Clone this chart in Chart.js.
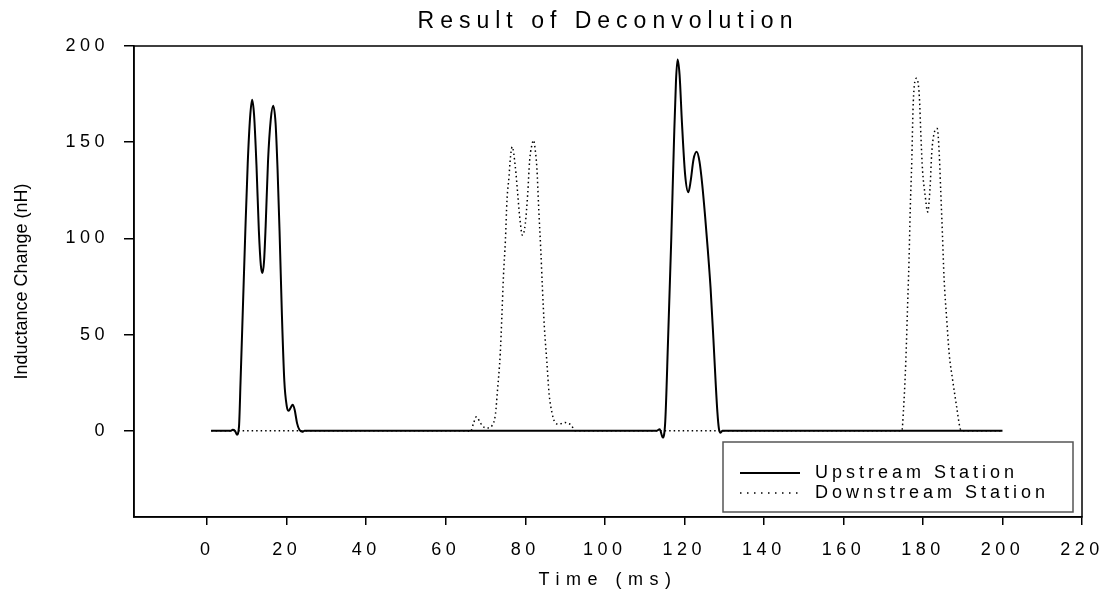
<!DOCTYPE html>
<html><head><meta charset="utf-8">
<script src="https://cdn.jsdelivr.net/npm/chart.js@4.4.1/dist/chart.umd.min.js"></script>
<style>html,body{margin:0;padding:0;background:#fff;}canvas{display:block}</style>
</head><body>
<canvas id="c" width="1102" height="597"></canvas>
<script>
// ---- data ----
const upTime = [1,6,6.4,7,7.5,8,8.4,9,9.6,10.2,10.8,11.3,11.8,12.4,13,13.5,13.9,14.3,14.7,15.3,16,16.6,17.2,17.7,18.2,18.8,19.4,20,20.5,21,21.5,22,22.6,23.2,23.9,24.5,
  113,113.8,114.6,115.2,115.9,116.7,117.4,117.9,118.3,118.8,119.4,120.2,121,121.6,122.3,123.1,123.8,124.5,125.2,125.9,126.6,127.3,127.9,128.3,128.7,129.1,129.6,200];
const upValue = [0,0,0.5,0,-2,2,26,65,104,139,163,172,164,138,104,86,82,88,106,140,162,169,160,136,104,60,26,13,10.4,12,13.5,11,4,0.5,-0.5,0,
  0,0.8,-3.5,5,47,99,151,182,193,185,160,133,124,130,141,145,140,128,112,94,74,48,24,10,1,-1,0,0];
const downTime = [1,65.5,66.2,67,67.7,68.5,69.2,69.8,70.6,71.6,72.5,73,73.7,74.1,74.5,75,75.4,75.9,76.2,76.7,77.5,78.1,78.6,79.3,80,80.6,81.1,81.6,82.1,82.5,82.9,83.4,83.9,84.3,84.8,85.4,86,86.7,87.5,88.4,89.2,90,90.8,91.5,92.6,
  174.7,175.1,175.7,176.1,176.5,176.8,177.2,177.5,177.8,178.4,179.1,179.5,179.9,180.5,181.2,181.8,182.2,182.8,183.6,184.1,184.5,184.9,185.3,186,186.6,187.5,188.5,189.3,189.7,200];
const downValue = [0,0,-0.5,4,7.3,5,2.5,1.7,1.5,2.6,8.7,20.8,40,59,80,99,120,132,140.6,147.6,137,123,111,101.6,107.6,123,140.6,148,151,146,137,114.6,93.75,74.6,53.8,36.5,19,9.5,4.3,3.5,3.8,4.3,3.8,3.1,0,
  0,10.4,36.5,62.5,88.5,114.6,140.6,166.7,178.8,183.2,173.6,152.8,135.4,123.3,113.7,126.7,144,154.5,157.1,144,123.3,102.4,79.9,57.3,40,26,12.1,1.7,0,0];
const xTickValues = [0,20,40,60,80,100,120,140,160,180,200,220];
const yTickValues = [0,50,100,150,200];
const seriesLabels = ['Upstream Station','Downstream Station'];
const chartTitle = 'Result of Deconvolution';
const xTitle = 'Time (ms)';
const yTitle = 'Inductance Change (nH)';

// ---- styling ----
const FONT = "'Liberation Sans', Arial, Helvetica, sans-serif";
const toPts = (xs, ys) => xs.map((x, i) => ({x: x, y: ys[i]}));

function patch(obj, name, sp) {
  if (!obj || typeof obj[name] !== 'function' || obj['__p_' + name]) return;
  const orig = obj[name];
  obj[name] = function() {
    const c = this.ctx; c.save(); c.letterSpacing = sp;
    try { return orig.apply(this, arguments); } finally { c.restore(); }
  };
  obj['__p_' + name] = true;
}

const stylePlugin = {
  id: 'stylePlugin',
  afterLayout(chart) {
    patch(chart.scales.x, 'drawLabels', '4.5px');
    patch(chart.scales.y, 'drawLabels', '4.5px');
    patch(chart.scales.x, 'drawTitle', '6.5px');
    patch(chart.scales.y, 'drawTitle', '0px');
    patch(chart.titleBlock, 'draw', '6px');
  },
  afterDraw(chart) {
    const ctx = chart.ctx, a = chart.chartArea;
    ctx.save();
    ctx.strokeStyle = '#000'; ctx.lineWidth = 1.5;
    ctx.strokeRect(a.left, a.top, a.right - a.left, a.bottom - a.top);
    // legend
    const bx = a.right - 359, by = a.bottom - 75, bw = 350, bh = 70;
    ctx.fillStyle = '#fff'; ctx.fillRect(bx, by, bw, bh);
    ctx.strokeStyle = '#555'; ctx.lineWidth = 1.5; ctx.strokeRect(bx, by, bw, bh);
    const ds = chart.data.datasets;
    ds.forEach((d, i) => {
      const y = by + 31 + i * 20;
      ctx.beginPath();
      ctx.strokeStyle = '#000';
      ctx.lineWidth = d.borderWidth;
      ctx.setLineDash(d.borderDash && d.borderDash.length ? [1.5, 5.5] : []);
      ctx.moveTo(bx + 17, y); ctx.lineTo(bx + 77, y); ctx.stroke();
      ctx.setLineDash([]);
      ctx.letterSpacing = '4px';
      ctx.font = '18px ' + FONT;
      ctx.fillStyle = '#000';
      ctx.textBaseline = 'middle'; ctx.textAlign = 'left';
      ctx.fillText(d.label, bx + 92, y);
    });
    ctx.restore();
  }
};

new Chart(document.getElementById('c'), {
  type: 'line',
  data: {
    datasets: [
      {label: seriesLabels[0], data: toPts(upTime, upValue), borderColor: '#000', borderWidth: 2,
       pointRadius: 0, cubicInterpolationMode: 'monotone', fill: false},
      {label: seriesLabels[1], data: toPts(downTime, downValue), borderColor: '#000', borderWidth: 1.5,
       borderDash: [1.5, 3], pointRadius: 0, cubicInterpolationMode: 'monotone', fill: false}
    ]
  },
  options: {
    responsive: false, animation: false, devicePixelRatio: 1,
    layout: {padding: {left: 0, right: 20, top: 0, bottom: 0}},
    plugins: {
      legend: {display: false},
      tooltip: {enabled: false},
      title: {display: true, fullSize: false, text: chartTitle, color: '#000',
        font: {family: FONT, size: 23, weight: 'normal', lineHeight: 1.2},
        padding: {top: 8, bottom: 10.4}}
    },
    scales: {
      x: {
        type: 'linear', min: -18.4, max: 220,
        afterBuildTicks: s => { s.ticks = xTickValues.map(v => ({value: v})); },
        afterFit: s => { s.height = 80; s.paddingRight = 0; s.paddingLeft = 0; },
        ticks: {color: '#000', font: {family: FONT, size: 18}, padding: 14, maxRotation: 0, autoSkip: false},
        grid: {drawOnChartArea: false, drawTicks: true, tickLength: 8, color: '#000', lineWidth: 1.5},
        border: {display: true, color: '#000', width: 1.5},
        title: {display: true, text: xTitle, color: '#000', font: {family: FONT, size: 18}, padding: {top: 0, bottom: 6}}
      },
      y: {
        type: 'linear', min: -44.8, max: 200,
        afterBuildTicks: s => { s.ticks = yTickValues.map(v => ({value: v})); },
        afterFit: s => { s.width = 134; },
        ticks: {color: '#000', font: {family: FONT, size: 18}, padding: 15, autoSkip: false},
        grid: {drawOnChartArea: false, drawTicks: true, tickLength: 10, color: '#000', lineWidth: 1.5},
        border: {display: true, color: '#000', width: 1.5},
        title: {display: true, text: yTitle, color: '#000', font: {family: FONT, size: 18}, padding: {top: 11, bottom: 0}}
      }
    }
  },
  plugins: [stylePlugin]
});
</script>
</body></html>
